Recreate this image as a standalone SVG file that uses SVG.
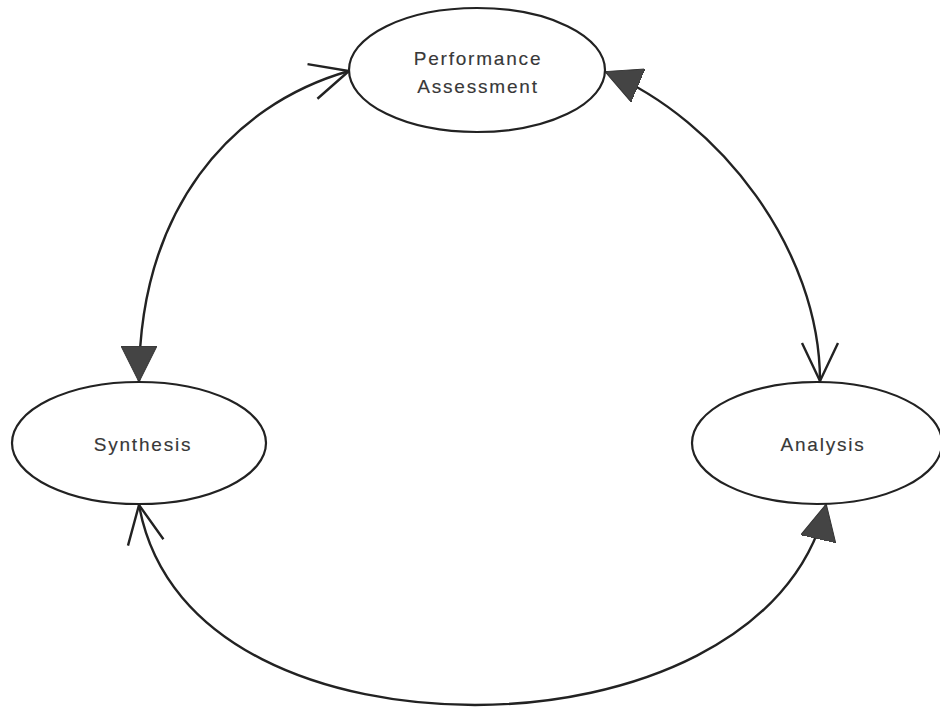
<svg xmlns="http://www.w3.org/2000/svg" width="940" height="708" viewBox="0 0 940 708">
  <style>
    .node ellipse { fill: #ffffff; stroke: #222222; stroke-width: 2.2; }
    .node text { font-family: "Liberation Sans", Arial, sans-serif; font-size: 19px; letter-spacing: 1.8px; fill: #383838; stroke: #383838; stroke-width: 0.15; text-anchor: middle; }
    .edge { fill: none; stroke: #222222; stroke-width: 2.4; }
  </style>
  <defs>
    <marker id="solid" viewBox="0 0 36 36" refX="35" refY="18" markerWidth="36" markerHeight="36" markerUnits="userSpaceOnUse" orient="auto-start-reverse">
      <path d="M0,0 L36,18 L0,36 z" fill="#444444" stroke="#333333" stroke-width="1"/>
    </marker>
    <marker id="open" viewBox="-2 -2 44 44" refX="38" refY="18" markerWidth="44" markerHeight="44" markerUnits="userSpaceOnUse" orient="auto-start-reverse">
      <path d="M0,0 L38,18 L0,36" fill="none" stroke="#222222" stroke-width="2.4"/>
    </marker>
  </defs>
  <rect width="940" height="708" fill="#ffffff"/>

  <g id="connectors">
    <path class="edge" d="M139,381 C139,210 230,105 349,71" marker-start="url(#solid)" marker-end="url(#open)"/>
    <path class="edge" d="M606,72 C720,120 820,250 820,381" marker-start="url(#solid)" marker-end="url(#open)"/>
    <path class="edge" d="M139,505 C165,650 330,705 475,705 C630,705 795,640 826,505" marker-start="url(#open)" marker-end="url(#solid)"/>
  </g>

  <g id="performance-assessment" class="node">
    <ellipse cx="477" cy="70" rx="128" ry="62"/>
    <text x="478" y="65">Performance</text>
    <text x="478" y="93">Assessment</text>
  </g>

  <g id="synthesis" class="node">
    <ellipse cx="139" cy="443" rx="127" ry="61"/>
    <text x="143" y="451">Synthesis</text>
  </g>

  <g id="analysis" class="node">
    <ellipse cx="817" cy="443" rx="125" ry="61"/>
    <text x="823" y="451">Analysis</text>
  </g>
</svg>
